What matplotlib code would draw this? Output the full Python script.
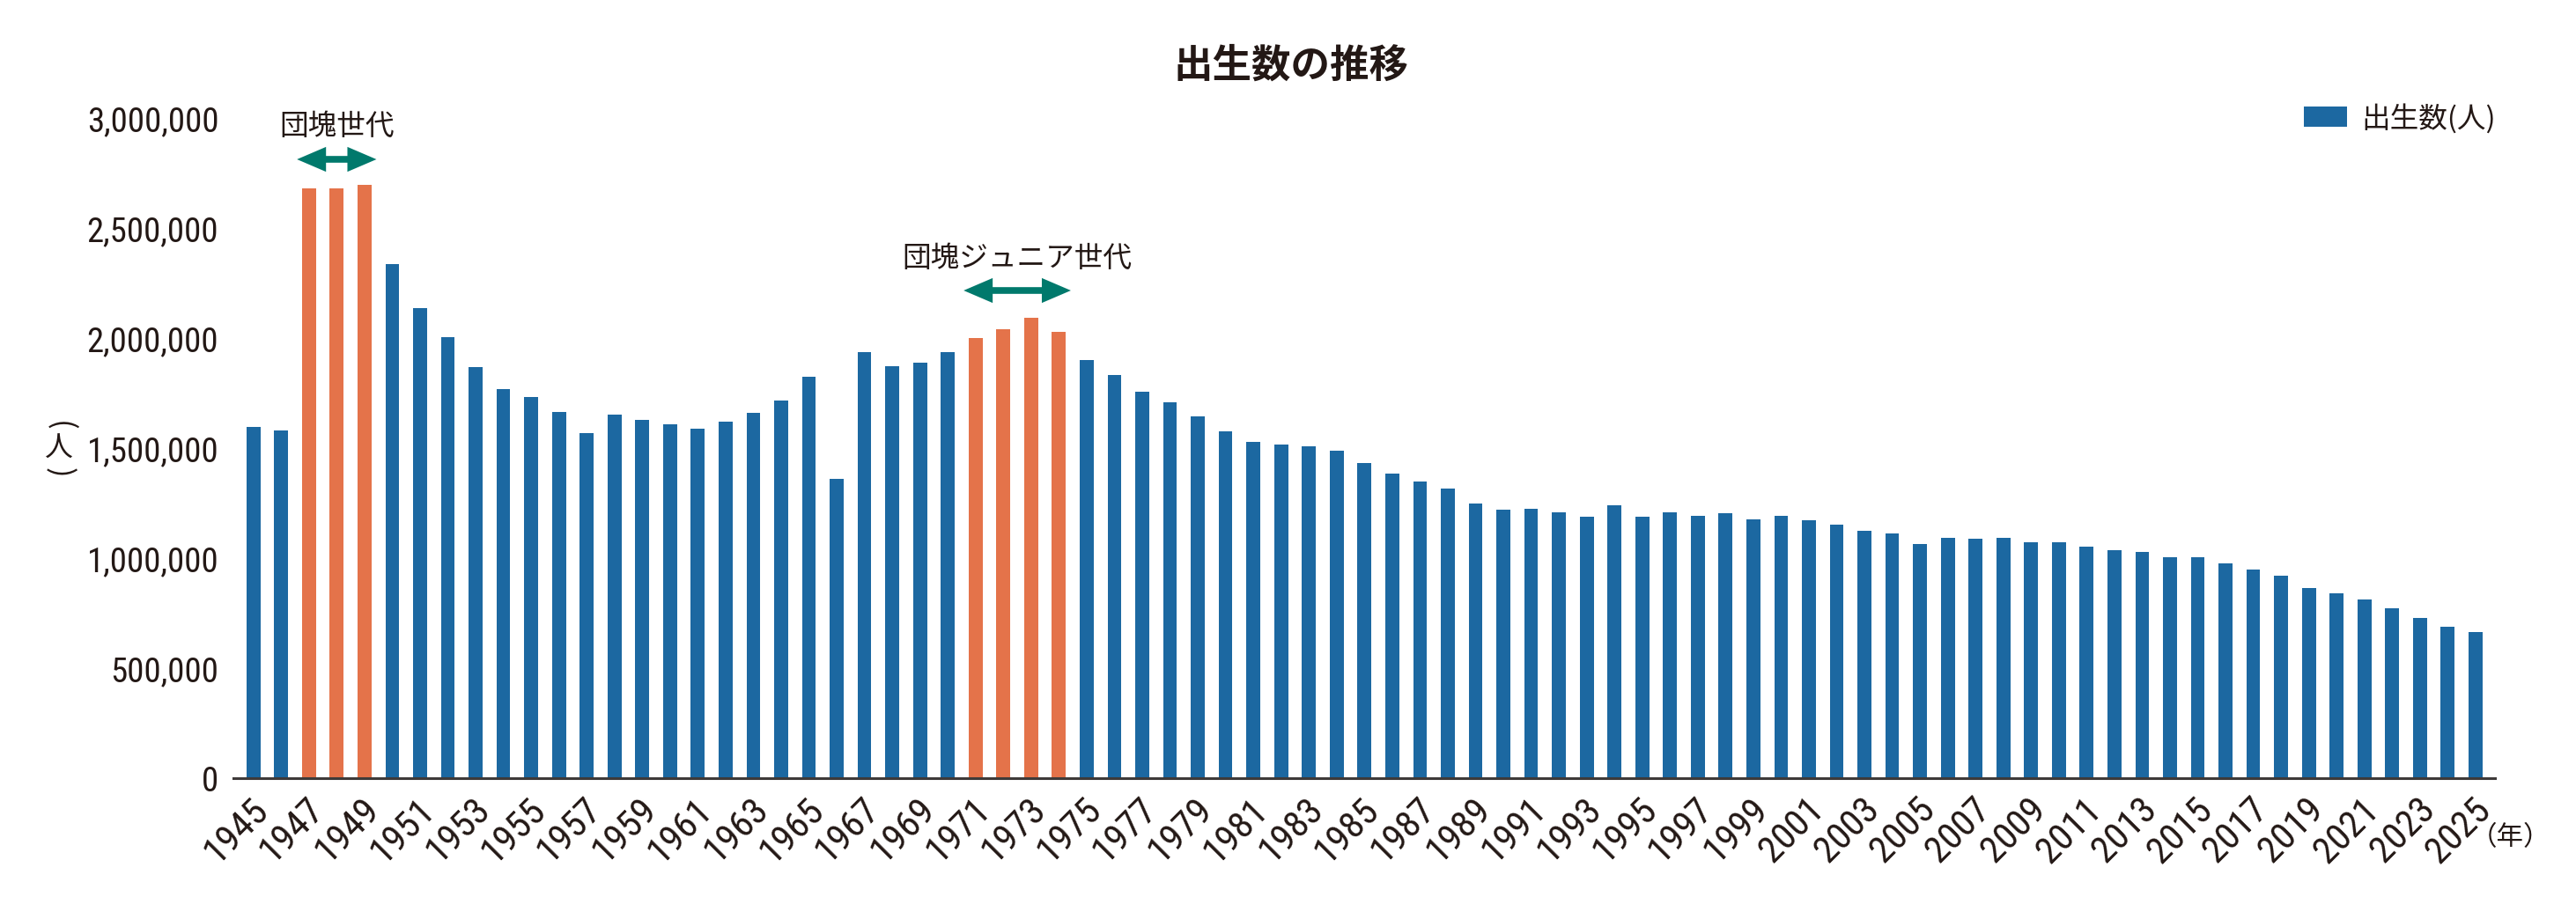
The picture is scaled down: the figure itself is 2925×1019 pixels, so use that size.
import numpy as np
import matplotlib
matplotlib.use('Agg')
from matplotlib import pyplot as plt
from matplotlib import font_manager
from matplotlib.patches import FancyArrowPatch
from matplotlib.transforms import ScaledTranslation

# 出生数 (人) 1945-2025
years = list(range(1945, 2026))
births = [
    1595000, 1580000, 2678792, 2681624, 2696638, 2337507, 2137689, 2005162,
    1868040, 1769580, 1730692, 1665278, 1566713, 1653469, 1626088, 1606041,
    1589372, 1618616, 1659521, 1716761, 1823697, 1360974, 1935647, 1871839,
    1889815, 1934239, 2000973, 2038682, 2091983, 2029989, 1901440, 1832617,
    1755100, 1708643, 1642580, 1576889, 1529455, 1515392, 1508687, 1489780,
    1431577, 1382946, 1346658, 1314006, 1246802, 1221585, 1223245, 1208989,
    1188282, 1238328, 1187064, 1206555, 1191665, 1203147, 1177669, 1190547,
    1170662, 1153855, 1123610, 1110721, 1062530, 1092674, 1089818, 1091156,
    1070036, 1071304, 1050806, 1037231, 1029816, 1003609, 1005721, 977242,
    946146, 918400, 865239, 840835, 811622, 770759, 727288, 686061, 665000,
]
dankai = [1947, 1949]
dankai_jr = [1971, 1974]
yticks = [0, 500000, 1000000, 1500000, 2000000, 2500000, 3000000]

BLUE = '#1c68a1'
ORANGE = '#e4734a'
TEAL = '#00796c'
INK = '#231815'

names = {f.name for f in font_manager.fontManager.ttflist}
num_font = next((n for n in ['Liberation Sans Narrow', 'Roboto Condensed',
                             'DejaVu Sans Condensed', 'Roboto'] if n in names), 'DejaVu Sans')

plt.rcParams['font.family'] = ['Noto Sans CJK JP', 'DejaVu Sans']
plt.rcParams['text.color'] = INK

fig = plt.figure(figsize=(29.25, 10.2), dpi=100)
ax = fig.add_axes([265/2925, 1-885/1020, (2833-265)/2925, (885-135)/1020])

cols = []
for y in years:
    if dankai[0] <= y <= dankai[1] or dankai_jr[0] <= y <= dankai_jr[1]:
        cols.append(ORANGE)
    else:
        cols.append(BLUE)
ax.bar(years, births, width=0.5, color=cols, label='出生数(人)')

ax.set_xlim(years[0] - 0.72, years[-1] + 0.7)
ax.set_ylim(0, 3000000)
for s in ['top', 'right', 'left']:
    ax.spines[s].set_visible(False)
ax.spines['bottom'].set_color('#3e3a39')
ax.spines['bottom'].set_linewidth(2.2)

ax.set_yticks(yticks)
ax.set_yticklabels(['{:,}'.format(v) for v in yticks], fontfamily=num_font, fontsize=28, color=INK)
ax.tick_params(axis='y', length=0, pad=12)

ax.set_xticks(years[::2])
ax.set_xticklabels([str(y) for y in years[::2]], fontfamily=num_font, fontsize=31,
                   rotation=45, ha='right', va='top', color=INK)
ax.tick_params(axis='x', length=0, pad=10)
for lab in ax.get_xticklabels():
    lab.set_transform(lab.get_transform() + ScaledTranslation(0.25, 0, fig.dpi_scale_trans))

# 世代の矢印
def gen_arrow(span, y_arrow, y_text, text):
    arr = FancyArrowPatch((span[0] - 0.43, y_arrow), (span[1] + 0.43, y_arrow),
                          arrowstyle='<|-|>,head_length=14,head_width=6',
                          mutation_scale=1, color=TEAL, lw=5.5, shrinkA=0, shrinkB=0,
                          joinstyle='miter', capstyle='butt', clip_on=False)
    ax.add_patch(arr)
    ax.text((span[0] + span[1]) / 2, y_text, text, ha='center', va='center', fontsize=23.5)

gen_arrow(dankai, 2812000, 2964000, '団塊世代')
gen_arrow(dankai_jr, 2216000, 2364000, '団塊ジュニア世代')

fig.text(1466/2925, 1-75/1020, '出生数の推移', ha='center', va='center',
         fontsize=32, fontweight='bold')
# 縦書きの（人）
fig.text(67/2925, 1-484/1020, '(', rotation=-90, ha='center', va='center', fontsize=25)
fig.text(67/2925, 1-510/1020, '人', ha='center', va='center', fontsize=23)
fig.text(67/2925, 1-537/1020, ')', rotation=-90, ha='center', va='center', fontsize=25)
fig.text(2805/2925, 1-952/1020, '（年）', ha='left', va='center', fontsize=22)

ax.legend(loc='center right', bbox_to_anchor=(2834/2925, 1-135/1020),
          bbox_transform=fig.transFigure, frameon=False, fontsize=23.5,
          handlelength=1.5, handleheight=0.7, handletextpad=0.5,
          borderpad=0, borderaxespad=0)

fig.savefig('out.png', dpi=100)
